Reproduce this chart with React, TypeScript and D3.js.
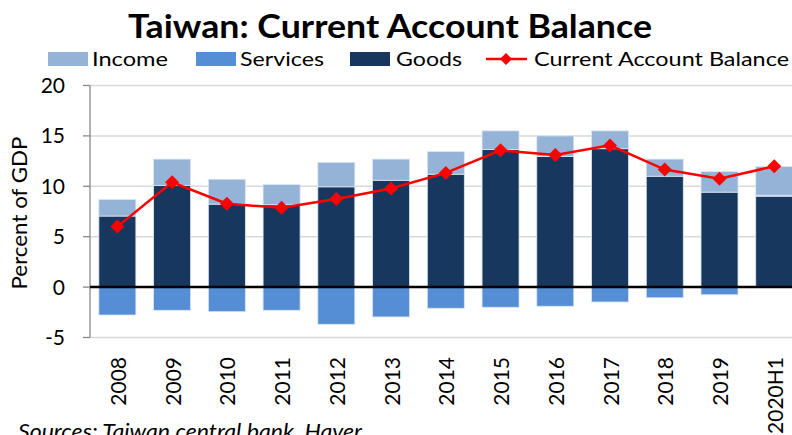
import React from "react";
import * as d3 from "d3";

const categories = ["2008","2009","2010","2011","2012","2013","2014","2015","2016","2017","2018","2019","2020H1"];
const goods = [7.05,10.08,8.23,8.17,9.95,10.6,11.2,13.64,12.97,13.73,11.0,9.42,9.02];
const services = [-2.77,-2.3,-2.44,-2.3,-3.69,-2.96,-2.1,-2.0,-1.9,-1.48,-1.06,-0.76,0.1];
const income = [1.65,2.62,2.47,2.0,2.43,2.1,2.24,1.86,2.03,1.77,1.7,2.04,2.84];
const currentAccount = [6.0,10.4,8.27,7.87,8.73,9.78,11.33,13.57,13.1,14.06,11.66,10.74,11.99];
const yTicks = [-5,0,5,10,15,20];

const W = 792, H = 435;
const FONT = "Lato, 'Open Sans', sans-serif";
const C_INCOME = "#95B3D7", C_SERV = "#558ED5", C_GOODS = "#17375E";

export default function App() {
  const x = d3.scaleBand<string>().domain(categories).range([90, 90 + 13 * 54.74]).paddingInner(0.324).paddingOuter(0.162);
  const y = d3.scaleLinear().domain([-5, 20]).range([337.5, 85.5]);
  const bw = x.bandwidth();

  const segs: { x: number; y0: number; y1: number; c: string }[] = [];
  categories.forEach((c, i) => {
    let pos = 0, neg = 0;
    const add = (v: number, col: string) => {
      if (v >= 0) { segs.push({ x: x(c)!, y0: pos, y1: pos + v, c: col }); pos += v; }
      else { segs.push({ x: x(c)!, y0: neg + v, y1: neg, c: col }); neg += v; }
    };
    add(goods[i], C_GOODS);
    add(services[i], C_SERV);
    add(income[i], C_INCOME);
  });

  const line = d3.line<number>().x((_, i) => x(categories[i])! + bw / 2).y(d => y(d));
  const diamond = (cx: number, cy: number, r: number) => `M${cx},${cy - r}L${cx + r},${cy}L${cx},${cy + r}L${cx - r},${cy}Z`;

  return (
    <svg width={W} height={H} style={{ position: "absolute", left: 0, top: 0, background: "#fff" }} fontFamily={FONT}>
      <text x={128} y={38} fontSize={32} fontWeight="bold" textLength={524} lengthAdjust="spacingAndGlyphs">Taiwan: Current Account Balance</text>
      {/* legend */}
      <g fontSize={20} fill="#000">
        <rect x={48} y={52} width={40} height={14} fill={C_INCOME} />
        <text x={92} y={66} textLength={76} lengthAdjust="spacingAndGlyphs">Income</text>
        <rect x={196} y={52} width={40} height={14} fill={C_SERV} />
        <text x={240} y={66} textLength={84} lengthAdjust="spacingAndGlyphs">Services</text>
        <rect x={350} y={52} width={40} height={14} fill={C_GOODS} />
        <text x={396} y={66} textLength={66} lengthAdjust="spacingAndGlyphs">Goods</text>
        <line x1={486} x2={527} y1={59} y2={59} stroke="#FF0000" strokeWidth={2.5} />
        <path d={diamond(506, 59, 6)} fill="#FF0000" />
        <text x={534} y={66} textLength={255} lengthAdjust="spacingAndGlyphs">Current Account Balance</text>
      </g>
      {/* grid */}
      {yTicks.filter(t => t !== 0).map(t => (
        <line key={t} x1={90} x2={W} y1={y(t)} y2={y(t)} stroke="#D9D9D9" strokeWidth={1.5} />
      ))}
      {/* y axis */}
      <line x1={90} x2={90} y1={y(20)} y2={y(-5)} stroke="#898989" strokeWidth={1.3} />
      {yTicks.map(t => (
        <g key={t}>
          <line x1={83} x2={90} y1={y(t)} y2={y(t)} stroke="#898989" strokeWidth={1.3} />
          <text x={65} y={y(t) + 7.5} textAnchor="end" fontSize={21}>{t}</text>
        </g>
      ))}
      <text transform={`translate(27,${213}) rotate(-90)`} textAnchor="middle" fontSize={21} textLength={153} lengthAdjust="spacingAndGlyphs">Percent of GDP</text>
      {/* bars */}
      {segs.map((s, i) => (
        <rect key={i} x={s.x} width={bw} y={y(s.y1)} height={Math.abs(y(s.y0) - y(s.y1))} fill={s.c} stroke="#DCE6F2" strokeWidth={0.8} />
      ))}
      {/* zero line */}
      <line x1={90} x2={W} y1={y(0)} y2={y(0)} stroke="#000" strokeWidth={2.5} />
      {/* line */}
      <path d={line(currentAccount)!} fill="none" stroke="#FF0000" strokeWidth={2.5} />
      {currentAccount.map((v, i) => (
        <path key={i} d={diamond(x(categories[i])! + bw / 2, y(v), 7)} fill="#FF0000" />
      ))}
      {/* x labels */}
      {categories.map(c => (
        <text key={c} transform={`translate(${x(c)! + bw / 2 + 8.5},357) rotate(-90)`} textAnchor="end" fontSize={21}>{c}</text>
      ))}
      <text x={18} y={439} fontSize={21} fontStyle="italic" textLength={344} lengthAdjust="spacingAndGlyphs">Sources: Taiwan central bank, Haver</text>
    </svg>
  );
}
